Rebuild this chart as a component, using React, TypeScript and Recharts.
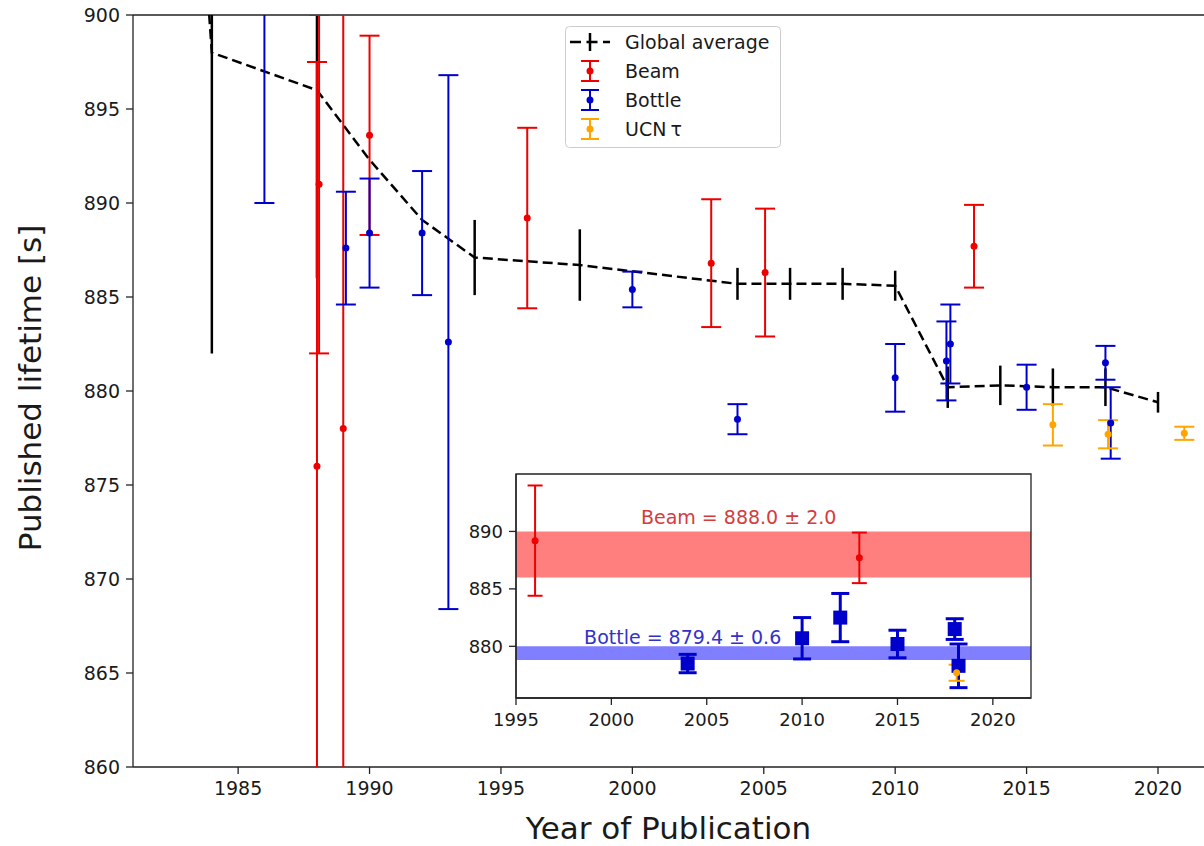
import {
  ComposedChart,
  Line,
  Scatter,
  ErrorBar,
  XAxis,
  YAxis,
  Legend,
  Label,
  ReferenceLine,
  ReferenceArea,
  ReferenceDot,
} from 'recharts'

// global average (dashed black); first point is the steep lead-in from above the axis
const avgYears = [1983.5, 1984, 1988, 1990, 1992, 1994, 1998, 2004, 2006, 2008, 2010, 2012, 2014, 2016, 2018, 2020]
const avgTau = [908, 898, 896, 892.3, 889.1, 887.1, 886.7, 885.7, 885.7, 885.7, 885.6, 880.2, 880.3, 880.2, 880.2, 879.4]
const avgErr = [0, 16, 10, 0, 0, 2.0, 1.9, 0.85, 0.85, 0.85, 0.8, 1.1, 1.05, 1.0, 1.0, 0.55]

const beamYears = [1988, 1988.08, 1989, 1990, 1996, 2003, 2005.05, 2013]
const beamTau = [876, 891, 878, 893.6, 889.2, 886.8, 886.3, 887.7]
const beamErr = [21.5, 9, 27, 5.3, 4.8, 3.4, 3.4, 2.2]

const bottleYears = [1986, 1989.1, 1990, 1992, 1993, 2000, 2004, 2010, 2011.95, 2012.1, 2015, 2018, 2018.2]
const bottleTau = [903, 887.6, 888.4, 888.4, 882.6, 885.4, 878.5, 880.7, 881.6, 882.5, 880.2, 881.5, 878.3]
const bottleErr = [13, 3.0, 2.9, 3.3, 14.2, 0.95, 0.8, 1.8, 2.1, 2.1, 1.2, 0.9, 1.9]

const ucnYears = [2016, 2018.1, 2021]
const ucnTau = [878.2, 877.7, 877.75]
const ucnErr = [1.1, 0.75, 0.35]

// inset: selected measurements and averages
const insetBeamYears = [1996, 2013]
const insetBeamTau = [889.2, 887.7]
const insetBeamErr = [4.8, 2.2]
const insetBottleYears = [2004, 2010, 2012, 2015, 2018, 2018.2]
const insetBottleTau = [878.5, 880.7, 882.5, 880.2, 881.5, 878.3]
const insetBottleErr = [0.8, 1.8, 2.1, 1.2, 0.9, 1.9]
const insetUcnYears = [2018.1]
const insetUcnTau = [877.7]
const insetUcnErr = [0.7]
const beamAvg = 888.0
const beamAvgErr = 2.0
const bottleAvg = 879.4
const bottleAvgErr = 0.6

const xTicks = [1985, 1990, 1995, 2000, 2005, 2010, 2015, 2020]
const yTicks = [860, 865, 870, 875, 880, 885, 890, 895, 900]
const insetXTicks = [1995, 2000, 2005, 2010, 2015, 2020]
const insetYTicks = [880, 885, 890]
const legendOrder = ['Global average', 'Beam', 'Bottle', 'UCNτ']

const X_DOMAIN: [number, number] = [1981, 2021.75]
const Y_DOMAIN: [number, number] = [860, 900]

const RED = '#ee0000'
const BLUE = '#0000cc'
const ORANGE = '#ffa500'
const TXT = '#1a1a1a'

const W = 1204
const H = 846
const PLOT = { left: 133, top: 15, right: 0, bottom: 79 }

const rows = (xs: number[], ys: number[], es: number[]) => xs.map((x, i) => ({ x, y: ys[i], err: es[i] }))

const avgData = rows(avgYears, avgTau, avgErr)
const beamData = rows(beamYears, beamTau, beamErr)
const bottleData = rows(bottleYears, bottleTau, bottleErr)
const ucnData = rows(ucnYears, ucnTau, ucnErr)
const insetBeam = rows(insetBeamYears, insetBeamTau, insetBeamErr)
const insetBottle = rows(insetBottleYears, insetBottleTau, insetBottleErr)
const insetUcn = rows(insetUcnYears, insetUcnTau, insetUcnErr)

const dot = (color: string, r: number) => (p: any) => <circle cx={p.cx} cy={p.cy} r={r} fill={color} />
const square = (color: string, s: number) => (p: any) => (
  <rect x={p.cx - s / 2} y={p.cy - s / 2} width={s} height={s} fill={color} />
)

function LegendBox({ payload }: { payload?: Array<{ value: string; color: string }> }) {
  const items = [...(payload ?? [])].sort((a, b) => legendOrder.indexOf(a.value) - legendOrder.indexOf(b.value))
  return (
    <svg width={216} height={122} style={{ display: 'block' }}>
      <rect x={0.5} y={0.5} width={215} height={121} rx={4} fill="#fff" fillOpacity={0.85} stroke="#cccccc" />
      {items.map((it, i) => {
        const cy = 16 + i * 29
        const icon =
          it.value === 'Global average' ? (
            <g>
              <line x1={5} x2={45} y1={cy} y2={cy} stroke="#000" strokeWidth={2.5} strokeDasharray="11 5.5" />
              <line x1={25} x2={25} y1={cy - 9} y2={cy + 9} stroke="#000" strokeWidth={2.5} />
            </g>
          ) : (
            <g>
              <line x1={25} x2={25} y1={cy - 10} y2={cy + 10} stroke={it.color} strokeWidth={2} />
              <line x1={16} x2={34} y1={cy - 10} y2={cy - 10} stroke={it.color} strokeWidth={2} />
              <line x1={16} x2={34} y1={cy + 10} y2={cy + 10} stroke={it.color} strokeWidth={2} />
              <circle cx={25} cy={cy} r={3.5} fill={it.color} />
            </g>
          )
        return (
          <g key={it.value}>
            {icon}
            <text x={60} y={cy} dominantBaseline="central" fontSize={19} fill={TXT}>
              {it.value === 'UCNτ' ? (
                <>
                  UCN<tspan dx={4}>τ</tspan>
                </>
              ) : (
                it.value
              )}
            </text>
          </g>
        )
      })}
    </svg>
  )
}

// axes, spines and axis titles of the main plot
function MainAxes() {
  return (
    <ComposedChart width={W} height={H} margin={{ top: PLOT.top, right: PLOT.right, bottom: 0, left: 0 }}>
      <XAxis
        type="number"
        dataKey="x"
        domain={X_DOMAIN}
        allowDataOverflow
        ticks={xTicks}
        height={PLOT.bottom}
        tickSize={7}
        tickMargin={8}
        stroke="#222"
        strokeWidth={1.3}
        tick={{ fill: TXT, fontSize: 19 }}
      >
        <Label value="Year of Publication" position="insideBottom" offset={7} style={{ fontSize: 31, fill: TXT }} />
      </XAxis>
      <YAxis
        type="number"
        dataKey="y"
        domain={Y_DOMAIN}
        allowDataOverflow
        ticks={yTicks}
        width={PLOT.left}
        tickSize={7}
        tickMargin={6}
        stroke="#222"
        strokeWidth={1.3}
        tick={{ fill: TXT, fontSize: 19 }}
      >
        <Label
          content={() => (
            <text x={30} y={388} transform="rotate(-90, 30, 388)" textAnchor="middle" dominantBaseline="central" fontSize={31} fill={TXT}>
              Published lifetime [s]
            </text>
          )}
        />
      </YAxis>
      <ReferenceLine y={Y_DOMAIN[1]} stroke="#222" strokeWidth={1.3} />
    </ComposedChart>
  )
}

// data layer, shown through a window the size of the plot area so that every mark is clipped
function MainData() {
  return (
    <div style={{ position: 'absolute', left: PLOT.left, top: PLOT.top, width: W - PLOT.left - PLOT.right, height: H - PLOT.top - PLOT.bottom, overflow: 'hidden' }}>
      <div style={{ position: 'absolute', left: -PLOT.left, top: -PLOT.top }}>
        <ComposedChart width={W} height={H} margin={PLOT}>
          <XAxis hide type="number" dataKey="x" domain={X_DOMAIN} allowDataOverflow />
          <YAxis hide type="number" dataKey="y" domain={Y_DOMAIN} allowDataOverflow />
          <Legend
            layout="horizontal"
            verticalAlign="middle"
            align="center"
            wrapperStyle={{ left: 565, top: 26, width: 216, height: 122 }}
            content={(props: any) => <LegendBox payload={props.payload} />}
          />
          <Line
            name="Global average"
            data={avgData}
            dataKey="y"
            stroke="#000"
            strokeWidth={2.5}
            strokeDasharray="10 5"
            dot={false}
            activeDot={false}
            isAnimationActive={false}
          >
            <ErrorBar dataKey="err" direction="y" width={0} stroke="#000" strokeWidth={2.5} />
          </Line>
          <Scatter name="Beam" data={beamData} fill={RED} shape={dot(RED, 3.5)} isAnimationActive={false}>
            <ErrorBar dataKey="err" direction="y" width={10} stroke={RED} strokeWidth={2} />
          </Scatter>
          <Scatter name="Bottle" data={bottleData} fill={BLUE} shape={dot(BLUE, 3.5)} isAnimationActive={false}>
            <ErrorBar dataKey="err" direction="y" width={10} stroke={BLUE} strokeWidth={2} />
          </Scatter>
          <Scatter name="UCNτ" data={ucnData} fill={ORANGE} shape={dot(ORANGE, 3.5)} isAnimationActive={false}>
            <ErrorBar dataKey="err" direction="y" width={10} stroke={ORANGE} strokeWidth={2} />
          </Scatter>
        </ComposedChart>
      </div>
    </div>
  )
}

function Inset() {
  return (
    <div style={{ position: 'absolute', left: 436, top: 464 }}>
      <ComposedChart width={605} height={274} margin={{ top: 10, right: 10, bottom: 0, left: 0 }}>
        <XAxis
          type="number"
          dataKey="x"
          domain={[1995, 2022]}
          allowDataOverflow
          ticks={insetXTicks}
          height={40}
          tickSize={7}
          tickMargin={8}
          stroke="#222"
          strokeWidth={1.3}
          tick={{ fill: TXT, fontSize: 18 }}
        />
        <YAxis
          type="number"
          dataKey="y"
          domain={[875.5, 895]}
          allowDataOverflow
          ticks={insetYTicks}
          width={80}
          tickSize={7}
          tickMargin={6}
          stroke="#222"
          strokeWidth={1.3}
          tick={{ fill: TXT, fontSize: 18 }}
        />
        <ReferenceArea x1={1995} x2={2022} y1={875.5} y2={895} fill="#fff" fillOpacity={1} stroke="none" />
        <ReferenceArea y1={beamAvg - beamAvgErr} y2={beamAvg + beamAvgErr} fill="#ff0000" fillOpacity={0.5} stroke="none" />
        <ReferenceArea y1={bottleAvg - bottleAvgErr} y2={bottleAvg + bottleAvgErr} fill="#0000ff" fillOpacity={0.5} stroke="none" />
        <ReferenceDot
          x={2001.55}
          y={891.2}
          r={0}
          fill="none"
          stroke="none"
          label={{ value: `Beam = ${beamAvg.toFixed(1)} ± ${beamAvgErr.toFixed(1)}`, position: 'right', offset: 0, fill: '#d43c3c', fontSize: 19 }}
        />
        <ReferenceDot
          x={1998.57}
          y={880.8}
          r={0}
          fill="none"
          stroke="none"
          label={{ value: `Bottle = ${bottleAvg.toFixed(1)} ± ${bottleAvgErr.toFixed(1)}`, position: 'right', offset: 0, fill: '#3232c8', fontSize: 19 }}
        />
        <Scatter data={insetBeam} fill={RED} shape={dot(RED, 3.5)} isAnimationActive={false}>
          <ErrorBar dataKey="err" direction="y" width={7.5} stroke={RED} strokeWidth={2} />
        </Scatter>
        <Scatter data={insetBottle} fill={BLUE} shape={square(BLUE, 14)} isAnimationActive={false}>
          <ErrorBar dataKey="err" direction="y" width={9} stroke={BLUE} strokeWidth={3} />
        </Scatter>
        <Scatter data={insetUcn} fill={ORANGE} shape={dot(ORANGE, 3.5)} isAnimationActive={false}>
          <ErrorBar dataKey="err" direction="y" width={8} stroke={ORANGE} strokeWidth={2} />
        </Scatter>
        <ReferenceArea x1={1995} x2={2022} y1={875.5} y2={895} fill="none" stroke="#222" strokeWidth={1.3} />
      </ComposedChart>
    </div>
  )
}

export default function App() {
  return (
    <div style={{ position: 'absolute', left: 0, top: 0, width: W, height: H, background: '#fff', fontFamily: 'DejaVu Sans' }}>
      <MainAxes />
      <MainData />
      <Inset />
    </div>
  )
}
